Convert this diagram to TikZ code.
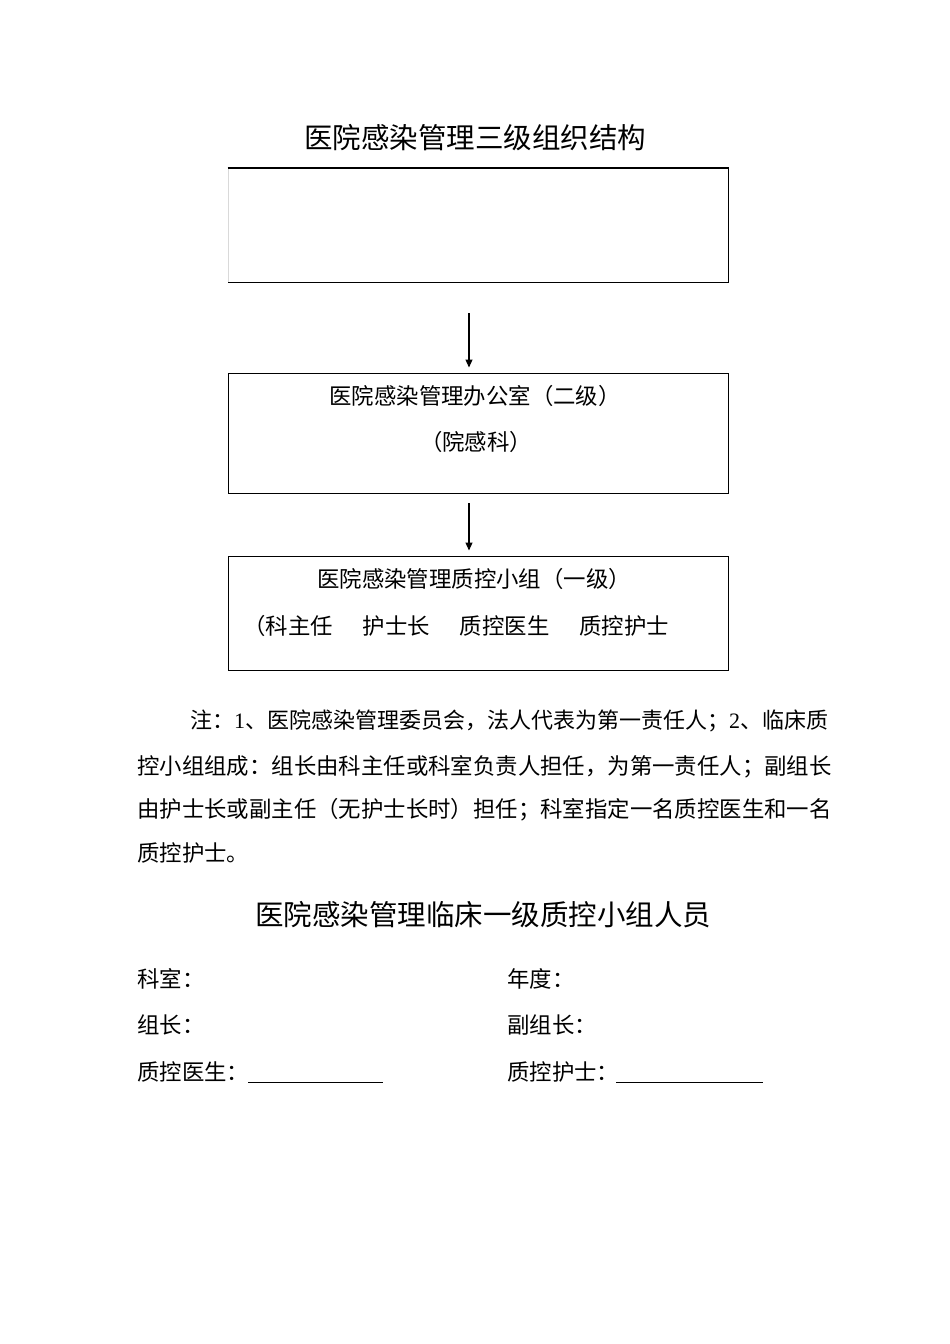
\documentclass[tikz,border=0pt]{standalone}
\usepackage{fontspec}
\setmainfont{Liberation Serif}
\newfontfamily\cjk{Noto Sans CJK SC}
\usetikzlibrary{arrows.meta}
\tikzset{
  box/.style={draw=black, line width=0.9pt, minimum width=500pt, inner sep=0pt, anchor=north west},
  txt/.style={inner sep=0pt, font=\cjk\fontsize{22.4pt}{26pt}\selectfont},
  ttl/.style={inner sep=0pt, font=\cjk\fontsize{28.5pt}{32pt}\selectfont},
  arr/.style={line width=1.1pt, -{Triangle[length=8pt,width=7pt]}},
}
\begin{document}
\begin{tikzpicture}[x=1pt,y=-1pt]
\useasboundingbox (0,0) rectangle (950,1344);
% title
\node[ttl] (t1) at (475,138) {医院感染管理三级组织结构};
% top box
\node[box, draw=none, minimum height=114pt] (b1) at (228,168) {};
\draw[black!15, line width=0.8pt] (b1.north west) -- (b1.south west);
\draw[line width=0.9pt] (b1.south west) -- (b1.south east) -- (b1.north east);
\draw[line width=2.4pt] ([xshift=-0.5pt]b1.north west) -- ([xshift=0.5pt]b1.north east);
% box 2
\node[box, minimum height=120pt] (b2) at (227.5,372.5) {};
\node[txt] (b2a) at (475,396) {医院感染管理办公室（二级）};
\node[txt] (b2b) at (476,442) {（院感科）};
% box 3
\node[box, minimum height=114pt] (b3) at (227.5,555.5) {};
\node[txt] (b3a) at (474,579) {医院感染管理质控小组（一级）};
\node[txt, anchor=west] (b3b) at (243,626) {（科主任\hspace{30pt}护士长\hspace{30pt}质控医生\hspace{30pt}质控护士};
% arrows
\coordinate (a1) at (469,313);
\coordinate (a2) at (469,503);
\draw[arr, shorten >=5pt] (a1) -- (a1 |- b2.north);
\draw[arr, shorten >=5pt] (a2) -- (a2 |- b3.north);
% note
\node[txt, anchor=west, font=\cjk\fontsize{22pt}{26pt}\selectfont] (n1) at (190,721) {注：{\rmfamily 1}、医院感染管理委员会，法人代表为第一责任人；{\rmfamily 2}、临床质};
\node[txt, anchor=west] (n2) at (137,767) {控小组组成：组长由科主任或科室负责人担任，为第一责任人；副组长};
\node[txt, anchor=west] (n3) at (137,810) {由护士长或副主任（无护士长时）担任；科室指定一名质控医生和一名};
\node[txt, anchor=west] (n4) at (137,853) {质控护士。};
% second title
\node[ttl] (t2) at (483,915) {医院感染管理临床一级质控小组人员};
% form
\node[txt, anchor=west] (f1) at (137,979) {科室：};
\node[txt, anchor=west] (f2) at (507,979) {年度：};
\node[txt, anchor=west] (f3) at (137,1025) {组长：};
\node[txt, anchor=west] (f4) at (507,1025) {副组长：};
\node[txt, anchor=west] (f5) at (137,1072) {质控医生：};
\node[txt, anchor=west] (f6) at (507,1072) {质控护士：};
\coordinate (u1s) at (248,1082); \coordinate (u1e) at (383,1082);
\coordinate (u2s) at (616,1082); \coordinate (u2e) at (763,1082);
\draw[line width=1pt] (u1s) -- (u1e);
\draw[line width=1pt] (u2s) -- (u2e);
\end{tikzpicture}
\end{document}
